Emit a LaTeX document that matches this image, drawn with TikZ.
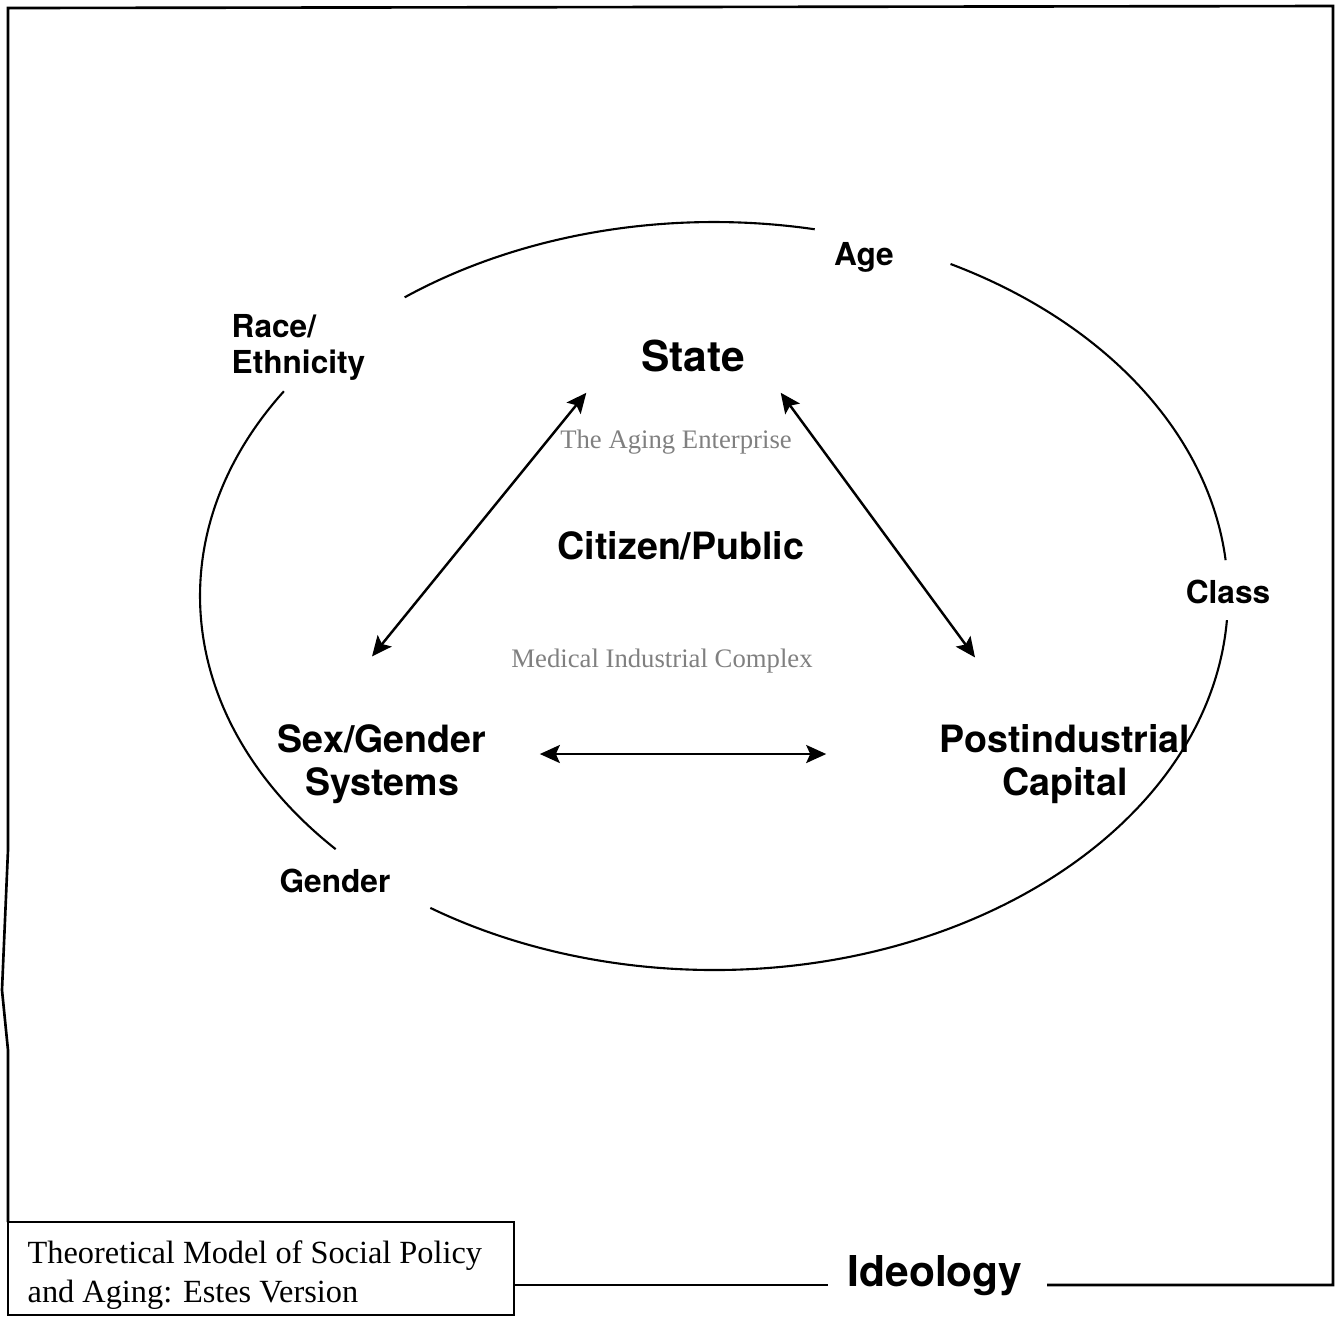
\documentclass[tikz,border=0pt]{standalone}
\usepackage{fontspec}
\setmainfont{Liberation Serif}
\newfontfamily\headfont{TeX Gyre Heros}
\usetikzlibrary{arrows.meta}

\begin{document}
\begin{tikzpicture}[x=0.1mm, y=-0.1mm,
    corelabel/.style={font=\headfont\bfseries\fontsize{10.7}{12.2}\selectfont, inner sep=0},
    ringlabel/.style={font=\headfont\bfseries\fontsize{9}{10.2}\selectfont, inner sep=0},
    faintlabel/.style={font=\fontsize{7.6}{9}\selectfont, text=black!50, inner sep=0},
    link/.style={{Stealth[length=2mm, width=1.8mm, inset=0.4mm]}-{Stealth[length=2mm, width=1.8mm, inset=0.4mm]}, line width=0.7pt},
    ring/.style={line width=0.6pt},
    outline/.style={line width=0.75pt}]
      \useasboundingbox (0,0) rectangle (1342,1317);

      % the three actors and the public in between
      \node (state) [corelabel, font=\headfont\bfseries\fontsize{12.1}{14}\selectfont] at (693,356) {State};
      \node (citizen) [corelabel] at (681,546) {Citizen/Public};
      \node (enterprise) [faintlabel] at (676,442) {The Aging Enterprise};
      \node (medical) [faintlabel] at (662,661) {Medical Industrial Complex};
      \node (sexgender) [corelabel] at (382,765) {
        \begin{tabular}{@{}c@{}}
          Sex/Gender \\
          Systems
        \end{tabular}
      };
      \node (capital) [corelabel] at (1065,765) {
        \begin{tabular}{@{}c@{}}
          Postindustrial \\
          Capital
        \end{tabular}
      };

      \draw[link] ([shift={(-54,20)}]state.south west) -- ([shift={(-10,-65)}]sexgender.north);
      \draw[link] ([shift={(35,20)}]state.south east) -- ([shift={(-90,-64)}]capital.north);
      \draw[link] ([shift={(53,-11)}]sexgender.east) -- ([shift={(-113,-11)}]capital.west);

      % ring of age, class, gender, race
      \draw[ring] (714,596) ++(233:514 and 374) arc[start angle=233, end angle=281.3, x radius=514, y radius=374];
      \draw[ring] (714,596) ++(297.4:514 and 374) arc[start angle=297.4, end angle=354.5, x radius=514, y radius=374];
      \draw[ring] (714,596) ++(3.7:514 and 374) arc[start angle=3.7, end angle=123.5, x radius=514, y radius=374];
      \draw[ring] (714,596) ++(137.4:514 and 374) arc[start angle=137.4, end angle=213.2, x radius=514, y radius=374];

      \node (age) [ringlabel] at (864,257) {Age};
      \node (class) [ringlabel] at (1228,592) {Class};
      \node (gender) [ringlabel] at (335,881) {Gender};
      \node (race) [ringlabel, anchor=west] at (231,348) {
        \begin{tabular}{@{}l@{}}
          Race/ \\
          Ethnicity
        \end{tabular}
      };

      % outer frame with the caption box
      \node (ideology) [corelabel, font=\headfont\bfseries\fontsize{12.1}{14}\selectfont] at (935,1276) {Ideology};
      \draw[outline] (8,1222) rectangle (514,1315);
      \node (title) [anchor=west, inner sep=0, font=\fontsize{9.2}{11.1}\selectfont] at (27,1275) {
        \begin{tabular}{@{}l@{}}
          Theoretical Model of Social Policy \\
          and Aging: Estes Version
        \end{tabular}
      };
      \draw[outline] (514,1285) -- (828,1285);
      \draw[outline] (1047,1285) -- (1333,1285) -- (1333,6) -- (8,8) -- (8,850) -- (2,990) -- (8,1050) -- (8,1222);
\end{tikzpicture}
\end{document}
